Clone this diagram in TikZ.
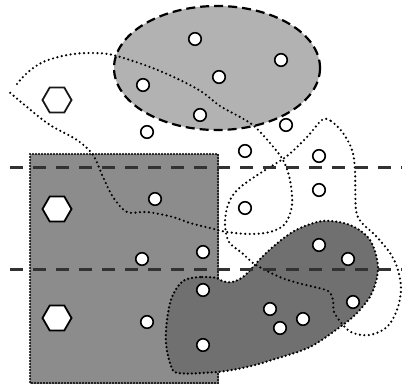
\documentclass[tikz,border=0pt]{standalone}
\usetikzlibrary{shapes.geometric}
\definecolor{ellfill}{RGB}{178,178,178}
\definecolor{rectfill}{RGB}{140,140,140}
\definecolor{blobfill}{RGB}{112,112,112}
\definecolor{dashgray}{RGB}{50,50,50}
\tikzset{
  dotline/.style={line width=2.4pt, line cap=round, dash pattern=on 0pt off 4.5pt},
  rectdots/.style={line width=2.2pt, line cap=round, dash pattern=on 0pt off 3pt},
  blobdots/.style={line width=2.5pt, line cap=round, dash pattern=on 0pt off 4pt},
  ellborder/.style={line width=2.2pt, dash pattern=on 9pt off 5pt},
  level/.style={line width=3pt, dashgray, dash pattern=on 13pt off 10pt},
  pt/.style={circle, draw=black, fill=white, line width=1.6pt, minimum size=12.5pt, inner sep=0pt},
  hexa/.style={regular polygon, regular polygon sides=6, draw=black, fill=white, line width=1.8pt, minimum size=29pt, inner sep=0pt}
}
\begin{document}
\begin{tikzpicture}[x=1pt,y=-1pt]
\useasboundingbox (0,0) rectangle (404,385);
% filled regions
\fill[ellfill] (217,68) ellipse [x radius=103, y radius=62];
\draw[rectfill, fill=rectfill] (30,154) rectangle (218,383);
\draw[rectdots] (30,154) rectangle (218,383);
\path[fill=blobfill, blobdots, draw=black] plot[smooth cycle, tension=0.55] coordinates {
 (217,278) (200,277) (183,281) (172,297) (167,320) (166,343) (170,363) (178,373)
 (217,372) (247,367) (275,359) (310,347) (340,327) (357,313) (372,293) (378,267)
 (370,240) (350,225) (323,221) (298,229) (280,241) (264,255) (253,267) (243,277)
 (232,282) (222,281)};
\draw[ellborder] (217,68) ellipse [x radius=103, y radius=62];
% dotted curves
\draw[dotline] plot[smooth, tension=0.55] coordinates {
 (17,84) (27,73) (43,62) (67,55) (90,53) (113,55) (150,67) (180,80) (202,92)
 (220,106) (240,117) (254,126) (270,143) (283,160) (290,180) (292,205) (285,224)
 (270,232) (250,234) (227,232) (210,228) (190,223) (173,217) (147,212) (127,212)
 (113,197) (103,177) (93,155) (77,140) (50,125) (27,107) (7,90)};
\draw[dotline] plot[smooth cycle, tension=0.55] coordinates {
 (322,120) (331,121) (343,133) (352,150) (355,170) (356,210) (362,223) (375,235)
 (390,253) (398,270) (401,290) (397,310) (387,327) (370,335) (353,333) (343,325)
 (334,312) (333,300) (328,291) (310,286) (298,283) (282,278) (265,270) (253,263)
 (242,253) (229,242) (225,225) (227,208) (233,195) (243,185) (262,172) (287,156)
 (307,137)};
% dashed levels
\coordinate (l1a) at (10,167); \coordinate (l1b) at (402,167);
\coordinate (l2a) at (10,269); \coordinate (l2b) at (402,269);
\draw[level] (l1a) -- (l1b);
\draw[level] (l2a) -- (l2b);
% hexagons
\node[hexa, draw=black!90] (h1) at (57,100) {};
\node[hexa] (h2) at (57,209) {};
\node[hexa] (h3) at (57,318) {};
% small particles
\node[pt] (p1) at (195,39) {};
\node[pt] (p2) at (281,60) {};
\node[pt] (p3) at (219,77) {};
\node[pt] (p4) at (143,85) {};
\node[pt] (p5) at (200,115) {};
\node[pt] (p6) at (147,132) {};
\node[pt] (p7) at (286,125) {};
\node[pt] (p8) at (245,151) {};
\node[pt] (p9) at (319,156) {};
\node[pt] (p10) at (319,190) {};
\node[pt] (p11) at (245,208) {};
\node[pt] (p12) at (155,199) {};
\node[pt] (p13) at (203,252) {};
\node[pt] (p14) at (142,259) {};
\node[pt] (p15) at (319,245) {};
\node[pt] (p16) at (348,259) {};
\node[pt] (p17) at (203,290) {};
\node[pt] (p18) at (353,302) {};
\node[pt] (p19) at (270,309) {};
\node[pt] (p20) at (303,319) {};
\node[pt] (p21) at (280,328) {};
\node[pt] (p22) at (147,322) {};
\node[pt] (p23) at (203,345) {};
\end{tikzpicture}
\end{document}
